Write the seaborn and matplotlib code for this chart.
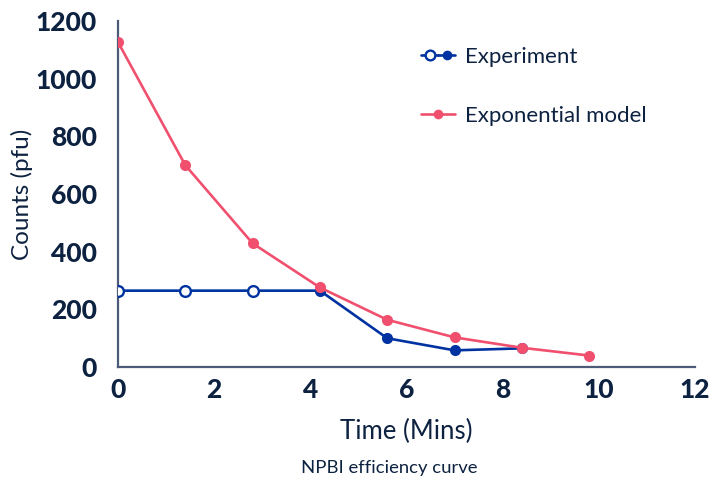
import matplotlib
matplotlib.use("Agg")
import matplotlib.pyplot as plt
import seaborn as sns
from matplotlib.lines import Line2D
from matplotlib.legend_handler import HandlerTuple

# data
time_exp = [0, 1.4, 2.8, 4.2, 5.6, 7.0, 8.4]
counts_exp = [265, 265, 265, 265, 100, 58, 65]
open_points = 3  # first three experiment points drawn hollow

time_model = [0, 1.4, 2.8, 4.2, 5.6, 7.0, 8.4, 9.8]
counts_model = [1127, 700, 429, 276, 164, 103, 67, 40]

x_ticks = [0, 2, 4, 6, 8, 10, 12]
y_ticks = [0, 200, 400, 600, 800, 1000, 1200]

blue = "#0033a1"
pink = "#f0506e"
ink = "#0d2240"
axis_col = "#4b5b78"

sns.set_style("white")
plt.rcParams["font.family"] = ["Lato", "DejaVu Sans"]

fig = plt.figure(figsize=(7.09, 4.83), dpi=100)
ax = fig.add_axes([0.1664, 0.240, 0.8138, 0.7165])

# experiment curve
sns.lineplot(x=time_exp, y=counts_exp, ax=ax, color=blue, linewidth=1.9,
             marker="o", markersize=8, markeredgewidth=0, sort=False)
sns.scatterplot(x=time_exp[:open_points], y=counts_exp[:open_points], ax=ax,
                color="white", edgecolor=blue, linewidth=1.7, s=60, zorder=4)

# exponential model
sns.lineplot(x=time_model, y=counts_model, ax=ax, color=pink, linewidth=1.9,
             marker="o", markersize=8, markeredgewidth=0, sort=False, zorder=5)

ax.set_xlim(0, 12)
ax.set_ylim(0, 1200)
ax.set_xticks(x_ticks)
ax.set_yticks(y_ticks)
ax.tick_params(axis="both", direction="in", length=7, width=1.2, color=axis_col,
               labelsize=19, labelcolor=ink)
ax.tick_params(axis="x", pad=8)
ax.tick_params(axis="y", pad=15)
for lab in ax.get_xticklabels() + ax.get_yticklabels():
    lab.set_fontweight("black")

sns.despine(ax=ax)
for side in ["left", "bottom"]:
    ax.spines[side].set_color(axis_col)
    ax.spines[side].set_linewidth(1.6)

ax.set_xlabel("Time (Mins)", fontsize=18.5, color=ink, labelpad=12)
ax.set_ylabel("Counts (pfu)", fontsize=17.5, color=ink, labelpad=2)

# legend
h_open = Line2D([], [], color=blue, linewidth=1.9, marker="o", markersize=7,
                markerfacecolor="white", markeredgecolor=blue, markeredgewidth=1.7)
h_fill = Line2D([], [], color=blue, linewidth=1.9, marker="o", markersize=7,
                markeredgewidth=0)
h_model = Line2D([], [], color=pink, linewidth=1.9, marker="o", markersize=7,
                 markeredgewidth=0)
leg = ax.legend([(h_open, h_fill), h_model], ["Experiment", "Exponential model"],
                handler_map={tuple: HandlerTuple(ndivide=None, pad=0)},
                loc="upper left", bbox_to_anchor=(0.525, 0.925), frameon=False,
                fontsize=16, labelspacing=1.75, handlelength=1.55,
                handletextpad=0.45, borderpad=0, borderaxespad=0)
for t in leg.get_texts():
    t.set_color(ink)

fig.text(0.549, 0.031, "NPBI efficiency curve", fontsize=13.3, color=ink,
         ha="center", va="center")

fig.savefig("out.png", dpi=100)
